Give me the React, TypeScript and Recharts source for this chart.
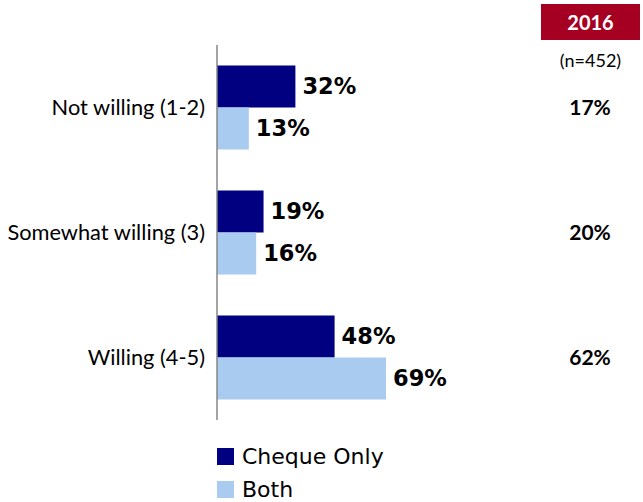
import React from 'react';
import { BarChart, Bar, XAxis, YAxis, LabelList, Legend } from 'recharts';

const categories = ['Not willing (1-2)', 'Somewhat willing (3)', 'Willing (4-5)'];
const chequeOnly = [32, 19, 48];
const both = [13, 16, 69];
const values2016 = [17, 20, 62];
const seriesNames = ['Cheque Only', 'Both'];
const headerYear = '2016';
const headerN = '(n=452)';

const NAVY = '#000080';
const LIGHT = '#A9CBF0';
const RED = '#A50021';
const colors = [NAVY, LIGHT];

const data = categories.map((c, i) => ({
  category: c,
  cheque: chequeOnly[i],
  both: both[i],
  y2016: values2016[i],
}));

const RightTick = (props: any) => {
  const { x, y, payload } = props;
  const v = values2016[payload.index];
  return (
    <text
      x={x + 120}
      y={y}
      dy="0.36em"
      textAnchor="middle"
      fontFamily="Lato"
      fontWeight="bold"
      fontSize={21}
      fill="#000"
    >
      {v}%
    </text>
  );
};

const renderLegend = () => (
  <div style={{ fontFamily: 'DejaVu Sans', fontSize: 22, color: '#000' }}>
    {seriesNames.map((n, i) => (
      <div key={n} style={{ display: 'flex', alignItems: 'center', height: 33 }}>
        <span
          style={{
            width: 17,
            height: 17,
            background: colors[i],
            marginRight: 8,
            display: 'inline-block',
          }}
        />
        <span style={{ lineHeight: '33px' }}>{n}</span>
      </div>
    ))}
  </div>
);

const labelStyle = {
  fontFamily: 'DejaVu Sans',
  fontWeight: 'bold' as const,
  fontSize: 22.5,
  fill: '#000',
};

export default function App() {
  return (
    <div style={{ position: 'absolute', left: 0, top: 0, width: 643, height: 502, background: '#fff' }}>
      <BarChart
        width={643}
        height={502}
        data={data}
        layout="vertical"
        margin={{ top: 45, right: 0, bottom: 82, left: 0 }}
        barCategoryGap="16.4%"
        barGap={0}
      >
        <XAxis type="number" domain={[0, 100]} hide />
        <YAxis
          yAxisId="left"
          type="category"
          dataKey="category"
          width={217}
          axisLine={{ stroke: '#868686', strokeWidth: 1.5 }}
          tickLine={false}
          tickMargin={6}
          tick={{ fontFamily: 'Lato', fontSize: 21.8, fill: '#000' }}
        />
        <YAxis
          yAxisId="right"
          orientation="right"
          type="category"
          dataKey="category"
          width={181}
          axisLine={false}
          tickLine={false}
          tick={<RightTick />}
        />
        <Legend
          layout="horizontal"
          verticalAlign="middle"
          align="center"
          content={renderLegend}
          wrapperStyle={{ left: 217, top: 440, width: 300 }}
        />
        <Bar yAxisId="left" dataKey="cheque" name={seriesNames[0]} fill={NAVY} isAnimationActive={false}>
          <LabelList dataKey="cheque" position="right" offset={7} formatter={(v: any) => `${v}%`} style={labelStyle} />
        </Bar>
        <Bar yAxisId="left" dataKey="both" name={seriesNames[1]} fill={LIGHT} isAnimationActive={false}>
          <LabelList dataKey="both" position="right" offset={7} formatter={(v: any) => `${v}%`} style={labelStyle} />
        </Bar>
      </BarChart>
      <div
        style={{
          position: 'absolute',
          left: 541,
          top: 4,
          width: 99,
          height: 36,
          background: RED,
          color: '#fff',
          fontFamily: 'Lato',
          fontWeight: 'bold',
          fontSize: 20,
          display: 'flex',
          alignItems: 'center',
          justifyContent: 'center',
        }}
      >
        {headerYear}
      </div>
      <div
        style={{
          position: 'absolute',
          left: 541,
          top: 48,
          width: 99,
          height: 24,
          color: '#000',
          fontFamily: 'Lato',
          fontSize: 18,
          display: 'flex',
          alignItems: 'center',
          justifyContent: 'center',
        }}
      >
        {headerN}
      </div>
    </div>
  );
}
